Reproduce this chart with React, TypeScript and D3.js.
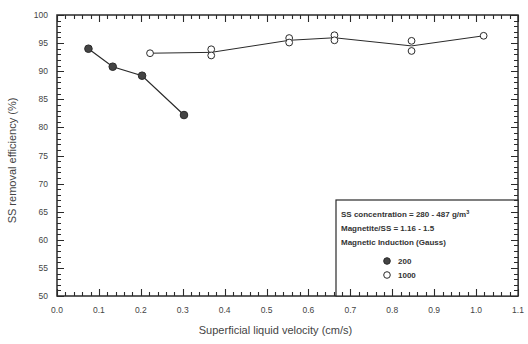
import React from 'react'
import * as d3 from 'd3'

// 200 Gauss series (filled circles)
const velocity200 = [0.075, 0.133, 0.203, 0.303]
const efficiency200 = [94.0, 90.8, 89.2, 82.2]

// 1000 Gauss series (open circles), repeated runs at the same velocity
const velocity1000 = [0.222, 0.368, 0.368, 0.554, 0.554, 0.662, 0.662, 0.846, 0.846, 1.018]
const efficiency1000 = [93.2, 93.9, 92.8, 95.9, 95.1, 96.4, 95.5, 95.4, 93.6, 96.3]

const xTicks = [0, 0.1, 0.2, 0.3, 0.4, 0.5, 0.6, 0.7, 0.8, 0.9, 1.0, 1.1]
const yTicks = [50, 55, 60, 65, 70, 75, 80, 85, 90, 95, 100]
const legendLines = ['SS concentration = 280 - 487 g/m', 'Magnetite/SS = 1.16 - 1.5', 'Magnetic Induction (Gauss)']
const legendSeries = ['200', '1000']

const W = 528
const H = 344
const left = 57
const right = 518
const top = 15
const bottom = 296
const ink = '#2a2a2a'
const font = 'Liberation Sans, Arial, sans-serif'

function App() {
  const x = d3.scaleLinear().domain([0, 1.1]).range([left, right])
  const y = d3.scaleLinear().domain([50, 100]).range([bottom, top])

  const pts200 = velocity200.map((v, i) => [v, efficiency200[i]] as [number, number])
  const pts1000 = velocity1000.map((v, i) => [v, efficiency1000[i]] as [number, number])
  // line through mean of each velocity group
  const groups = d3.rollups(pts1000, (g) => d3.mean(g, (d) => d[1]) as number, (d) => d[0])
  const mean1000 = groups.sort((a, b) => a[0] - b[0])

  const line = d3.line<[number, number]>().x((d) => x(d[0])).y((d) => y(d[1]))

  const xMinor = d3.range(0, 1.1001, 0.02)
  const yMinor = d3.range(50, 100.001, 1)

  // all tick marks as one path, rounded to whole pixels, pointing inward
  const r = (v: number) => Math.round(v) + 0.5
  let ticks = ''
  xMinor.forEach((v) => {
    ticks += `M${r(x(v))},${bottom}v-4M${r(x(v))},${top}v4`
  })
  yMinor.forEach((v) => {
    ticks += `M${left},${r(y(v))}h4M${right},${r(y(v))}h-4`
  })
  xTicks.forEach((v) => {
    ticks += `M${r(x(v))},${bottom}v-7M${r(x(v))},${top}v7`
  })
  yTicks.forEach((v) => {
    ticks += `M${left},${r(y(v))}h7M${right},${r(y(v))}h-7`
  })

  return (
    <svg width={W} height={H} style={{position: 'absolute', left: 0, top: 0, background: '#fff'}}>
      <rect x={left} y={top} width={right - left} height={bottom - top} fill="none" stroke={ink} strokeWidth={1.5} />
      {xTicks.map((v) => (
        <text key={'xt' + v} x={x(v)} y={bottom + 17} textAnchor="middle" fontSize={8.5} fontFamily={font} fill="#444">
          {v.toFixed(1)}
        </text>
      ))}
      {yTicks.map((v) => (
        <text key={'yt' + v} x={left - 9} y={y(v) + 3} textAnchor="end" fontSize={8.5} fontFamily={font} fill="#444">
          {v}
        </text>
      ))}

      {/* legend box */}
      <rect x={336} y={200} width={right - 336} height={bottom - 200} fill="#fff" stroke={ink} strokeWidth={1.2} />
      <path d={ticks} fill="none" stroke={ink} strokeWidth={1.1} />
      {legendLines.map((t, i) => (
        <text key={t} x={341} y={217 + i * 14} fontSize={8} fontWeight="bold" fontFamily={font} fill="#333">
          {t}
          {i === 0 ? <tspan dy={-3} fontSize={5.5}>3</tspan> : null}
        </text>
      ))}
      {legendSeries.map((t, i) => (
        <g key={t}>
          <circle cx={387} cy={261 + i * 14} r={3.3} fill={i === 0 ? '#444' : '#fff'} stroke={ink} strokeWidth={1} />
          <text x={398} y={264 + i * 14} fontSize={8} fontWeight="bold" fontFamily={font} fill="#333">
            {t}
          </text>
        </g>
      ))}

      {/* series */}
      <path d={line(pts200) || ''} fill="none" stroke={ink} strokeWidth={1.2} />
      <path d={line(mean1000) || ''} fill="none" stroke={ink} strokeWidth={1} />
      {pts200.map((d, i) => (
        <circle key={'a' + i} cx={x(d[0])} cy={y(d[1])} r={3.8} fill="#444" stroke={ink} strokeWidth={1} />
      ))}
      {pts1000.map((d, i) => (
        <circle key={'b' + i} cx={x(d[0])} cy={y(d[1])} r={3.4} fill="#fff" stroke={ink} strokeWidth={1} />
      ))}

      {/* axis titles */}
      <text
        transform={`translate(16,${(top + bottom) / 2 + 5}) rotate(-90)`}
        textAnchor="middle"
        fontSize={11}
        fontFamily={font}
        fill="#444"
      >
        SS removal efficiency (%)
      </text>
      <text x={(left + right) / 2 - 12} y={334} textAnchor="middle" fontSize={11} fontFamily={font} fill="#444">
        Superficial liquid velocity (cm/s)
      </text>
    </svg>
  )
}

export default App
